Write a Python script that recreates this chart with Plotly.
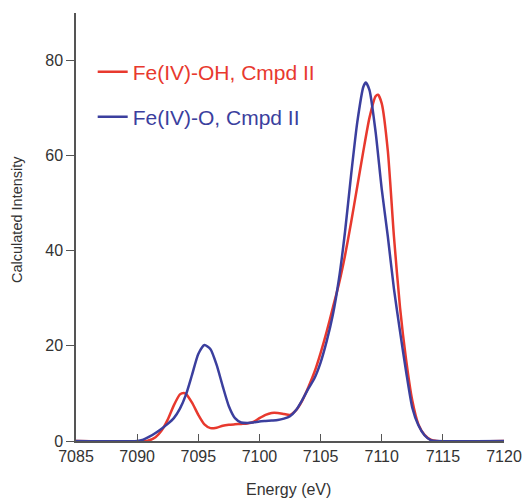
import plotly.graph_objects as go

# Fe(IV)-OH, Cmpd II (red)
oh_energy = [7085, 7090.8, 7091.5, 7092, 7092.5, 7093, 7093.5, 7093.8, 7094, 7094.5, 7095, 7095.5,
             7096, 7096.5, 7097, 7097.5, 7098, 7098.5, 7099, 7099.5, 7100, 7100.5, 7101, 7101.5,
             7102, 7102.5, 7103, 7103.5, 7104, 7104.5, 7105, 7105.5, 7106, 7106.5, 7107, 7107.5,
             7108, 7108.5, 7109, 7109.5, 7109.7, 7110, 7110.5, 7111, 7111.5, 7112, 7112.5, 7113,
             7113.5, 7114, 7114.5, 7120]
oh_intensity = [0, 0, 0.8, 2.2, 4.5, 7.5, 9.8, 10.1, 9.9, 8.0, 5.5, 3.5,
                2.7, 2.8, 3.2, 3.4, 3.5, 3.6, 3.7, 4.0, 4.8, 5.5, 5.9, 5.9,
                5.7, 5.5, 6.5, 8.5, 11.3, 14.5, 18.5, 23.0, 28.0, 33.0, 39.0, 46.0,
                53.5, 61.0, 68.0, 72.5, 72.8, 71.0, 61.0, 43.0, 28.0, 17.0, 8.5, 3.5,
                1.3, 0.3, 0, 0]

# Fe(IV)-O, Cmpd II (blue)
o_energy = [7085, 7090, 7090.5, 7091, 7091.5, 7092, 7092.5, 7093, 7093.5, 7094, 7094.5, 7095,
            7095.5, 7096, 7096.5, 7097, 7097.5, 7098, 7098.5, 7099, 7099.5, 7100, 7100.5, 7101,
            7101.5, 7102, 7102.5, 7103, 7103.5, 7104, 7104.5, 7105, 7105.5, 7106, 7106.5, 7107,
            7107.5, 7108, 7108.5, 7108.7, 7109, 7109.5, 7110, 7110.5, 7111, 7111.5, 7112, 7112.5,
            7113, 7113.5, 7114, 7114.5, 7120]
o_intensity = [0, 0, 0.3, 0.9, 1.7, 2.6, 3.6, 4.8, 6.8, 9.8, 14.0, 18.3,
               20.2, 19.3, 16.0, 11.5, 7.3, 4.8, 3.9, 3.8, 3.9, 4.1, 4.2, 4.3,
               4.4, 4.7, 5.2, 6.5, 8.6, 11.0, 13.2, 16.5, 21.0, 26.5, 34.0, 44.0,
               56.0, 67.0, 74.5, 75.4, 73.8, 65.0, 53.0, 43.0, 32.0, 23.0, 14.5, 7.0,
               3.3, 1.2, 0.2, 0, 0]

x_ticks = [7085, 7090, 7095, 7100, 7105, 7110, 7115, 7120]
y_ticks = [0, 20, 40, 60, 80]

RED = "#e8392e"
BLUE = "#3b3f9e"
FONT = "Liberation Sans, Arial, sans-serif"

fig = go.Figure()
fig.add_trace(go.Scatter(
    x=oh_energy, y=oh_intensity, mode="lines", line=dict(color=RED, width=2.5, shape="spline", smoothing=0.6),
    name=f"<span style='color:{RED}'>Fe(IV)-OH, Cmpd II</span>", legend="legend", showlegend=True))
fig.add_trace(go.Scatter(
    x=o_energy, y=o_intensity, mode="lines", line=dict(color=BLUE, width=2.5, shape="spline", smoothing=0.6),
    name=f"<span style='color:{BLUE}'>Fe(IV)-O, Cmpd II</span>", legend="legend2", showlegend=True))

legend_common = dict(xanchor="left", yanchor="middle", bgcolor="rgba(0,0,0,0)",
                     font=dict(family=FONT, size=21))
fig.update_layout(
    width=522, height=500,
    margin=dict(l=76, r=18, t=13, b=59),
    paper_bgcolor="white", plot_bgcolor="white",
    showlegend=True,
    font=dict(family=FONT, color="#333333"),
    legend=dict(x=0.039, y=(441 - 72) / 428, **legend_common),
    legend2=dict(x=0.039, y=(441 - 117) / 428, **legend_common),
    xaxis=dict(range=[7085, 7120], tickvals=x_ticks, ticks="inside", ticklen=7, tickcolor="#555",
               showline=True, linecolor="#555", linewidth=1.5, showgrid=False, zeroline=False,
               automargin=False, tickfont=dict(size=16)),
    yaxis=dict(range=[0, 90], tickvals=y_ticks, ticks="outside", ticklen=8, tickcolor="#555",
               showline=True, linecolor="#555", linewidth=1.5, showgrid=False, zeroline=False,
               automargin=False, tickfont=dict(size=16)),
    annotations=[
        dict(text="Energy (eV)", xref="paper", yref="paper", x=(288 - 76) / 428, y=(441 - 490) / 428,
             xanchor="center", yanchor="middle", showarrow=False, font=dict(size=16, color="#333333")),
        dict(text="Calculated Intensity", xref="paper", yref="paper", x=(17 - 76) / 428, y=(441 - 220) / 428,
             xanchor="center", yanchor="middle", textangle=-90, showarrow=False,
             font=dict(size=14.5, color="#333333")),
    ],
)

fig.write_html("out.html", config={"displayModeBar": False},
               post_script="document.body.style.margin='0';document.body.style.overflow='hidden';")
